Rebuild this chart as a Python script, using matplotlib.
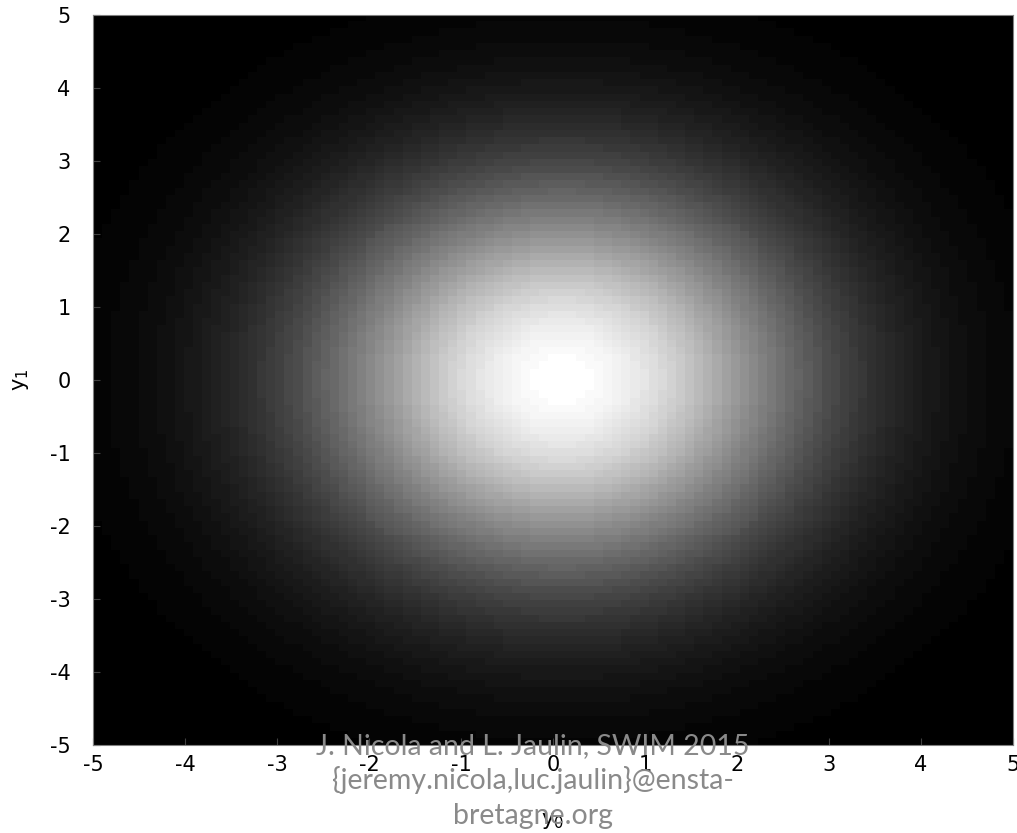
import numpy as np
import matplotlib
matplotlib.use("Agg")
import matplotlib.pyplot as plt

plt.rcParams["axes.unicode_minus"] = False

# grid and density parameters
y0_values = np.linspace(-5, 5, 101)
y1_values = np.linspace(-5, 5, 101)
center = [0.1, 0.0]
sigma = 1.9

ticks = [-5, -4, -3, -2, -1, 0, 1, 2, 3, 4, 5]
footer_lines = ["J. Nicola and L. Jaulin, SWIM 2015",
                "{jeremy.nicola,luc.jaulin}@ensta-",
                "bretagne.org"]

Y0, Y1 = np.meshgrid(y0_values, y1_values)
density = np.exp(-((Y0 - center[0]) ** 2 + (Y1 - center[1]) ** 2) / (2 * sigma ** 2))

fig = plt.figure(figsize=(10.17, 8.33), dpi=100)
ax = fig.add_axes([0.0914, 0.1056, 0.9046, 0.8764])
ax.imshow(density, cmap=plt.get_cmap("gray", 64), origin="lower",
          extent=[-5, 5, -5, 5], aspect="auto", interpolation="nearest")
ax.set_xlim(-5, 5)
ax.set_ylim(-5, 5)
ax.set_xticks(ticks)
ax.set_yticks(ticks)
ax.tick_params(direction="in", labelsize=15, length=5, color="#404040")
ax.tick_params(axis="y", pad=16)
ax.tick_params(axis="x", pad=7)
for s in ax.spines.values():
    s.set_color("#808080")
ax.set_xlabel(r"$\mathregular{y_0}$", fontsize=15, labelpad=26)
ax.set_ylabel(r"$\mathregular{y_1}$", fontsize=15, labelpad=14)

for i, line in enumerate(footer_lines):
    fig.text(0.524, 1 - (754 + 35 * i) / 833, line, ha="center", va="baseline",
             fontsize=20.5, color="#8a8a8a", family=["Lato", "DejaVu Sans"])

fig.savefig("out.png", dpi=100)
